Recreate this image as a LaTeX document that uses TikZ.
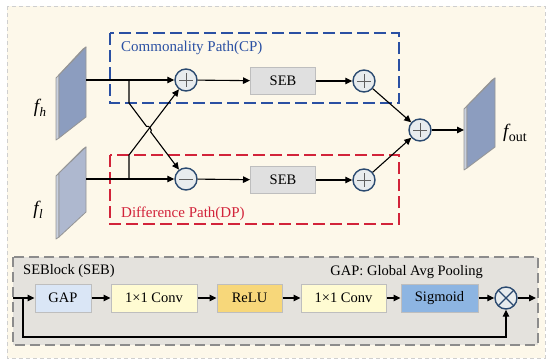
\documentclass[tikz,border=0pt]{standalone}
\usepackage{fontspec}
\setmainfont{Liberation Serif}
\usetikzlibrary{arrows.meta}
\definecolor{cream}{HTML}{FDF8EA}
\definecolor{panelline}{HTML}{CFCFCF}
\definecolor{sebpanel}{HTML}{E4E2DD}
\definecolor{sebline}{HTML}{8C8C8C}
\definecolor{cpblue}{HTML}{2A50A3}
\definecolor{dpred}{HTML}{D2233A}
\definecolor{opline}{HTML}{2B4A70}
\definecolor{opfill}{HTML}{E8ECEE}
\definecolor{sebbox}{HTML}{E0E0E0}
\definecolor{boxline}{HTML}{BEBEBE}
\definecolor{gapfill}{HTML}{DAE6F6}
\definecolor{convfill}{HTML}{FFFBD2}
\definecolor{relufill}{HTML}{F7D77A}
\definecolor{sigfill}{HTML}{8DB5E2}
\definecolor{fhfill}{HTML}{8C9DBF}
\definecolor{flfill}{HTML}{AEB8CF}
\definecolor{sidefill}{HTML}{C9D0DE}
\definecolor{plateedge}{HTML}{959595}
\tikzset{
  txt/.style={font=\fontsize{14.5}{17}\selectfont},
  lbl/.style={font=\fontsize{15}{18}\selectfont, inner sep=0pt},
  conn/.style={line width=1.1pt, draw=black},
  arr/.style={conn, -{Triangle[length=7pt,width=6.5pt]}},
  opnode/.style={circle, draw=opline, fill=opfill, line width=1.4pt, minimum size=22pt, inner sep=0pt},
  plusop/.style={opnode, path picture={\draw[gray!75!black, line width=0.6pt]
      ([yshift=-4pt]path picture bounding box.north) -- ([yshift=4pt]path picture bounding box.south)
      ([xshift=4pt]path picture bounding box.west) -- ([xshift=-4pt]path picture bounding box.east);}},
  minusop/.style={opnode, path picture={\draw[gray!75!black, line width=0.6pt]
      ([xshift=4pt]path picture bounding box.west) -- ([xshift=-4pt]path picture bounding box.east);}},
  timesop/.style={opnode, path picture={\draw[opline, line width=1.2pt]
      (path picture bounding box.north west) -- (path picture bounding box.south east)
      (path picture bounding box.north east) -- (path picture bounding box.south west);}},
  sebnode/.style={txt, draw=boxline, fill=sebbox, line width=1pt, minimum width=65pt, minimum height=27pt, inner sep=0pt},
  blk/.style={txt, draw=boxline, line width=1pt, minimum height=28pt, inner sep=0pt},
  side/.style={fill=sidefill, draw=plateedge, line width=0.8pt, line join=round},
  face/.style={draw=plateedge, line width=0.8pt, line join=round},
}
\begin{document}
\begin{tikzpicture}[x=1pt,y=-1pt]
\useasboundingbox (0,0) rectangle (550,364);
% panels
\filldraw[fill=cream, draw=panelline, line width=0.9pt, dash pattern=on 4pt off 3pt] (7,6) rectangle (545,358);
\filldraw[fill=sebpanel, draw=sebline, line width=1.2pt, dash pattern=on 10pt off 5pt] (13,257) rectangle (538,345);
% path boxes
\draw[cpblue, line width=1.5pt, dash pattern=on 12pt off 5pt] (110,33) rectangle (399,103);
\draw[dpred, line width=1.5pt, dash pattern=on 12pt off 5pt] (110,155) rectangle (399,224);
\node[lbl, text=cpblue, anchor=west] (cpl) at (121,48) {Commonality Path(CP)};
\node[lbl, text=dpred, anchor=west] (dpl) at (121,214) {Difference Path(DP)};
% plates
\filldraw[side] (56,78) -- (83,49) -- (86,47) -- (59,75) -- (59,138) -- (56,140) -- cycle;
\filldraw[face, fill=fhfill] (59,75) -- (86,47) -- (86,117) -- (59,138) -- cycle;
\filldraw[side] (56,176) -- (83,149) -- (86,147) -- (59,173) -- (59,237) -- (56,239) -- cycle;
\filldraw[face, fill=flfill] (59,173) -- (86,147) -- (86,212) -- (59,237) -- cycle;
\filldraw[side] (464,109) -- (492,80) -- (495,78) -- (467,106) -- (467,168) -- (464,170) -- cycle;
\filldraw[face, fill=fhfill] (467,106) -- (495,78) -- (495,147) -- (467,168) -- cycle;
\node[inner sep=0pt, font=\fontsize{19}{20}\selectfont] (fhl) at (40,108) {\itshape f\kern0.5pt\raisebox{-4pt}{\fontsize{13}{13}\selectfont h}};
\node[inner sep=0pt, font=\fontsize{19}{20}\selectfont] (fll) at (38,210) {\itshape f\kern0.5pt\raisebox{-4pt}{\fontsize{13}{13}\selectfont l}};
\node[inner sep=0pt, font=\fontsize{19}{20}\selectfont, anchor=west] (fol) at (503,133) {\itshape f\kern0.5pt\raisebox{-4pt}{\upshape\fontsize{14}{14}\selectfont out}};
\coordinate (fhout) at (86,80);
\coordinate (flout) at (86,179);
\coordinate (foin) at (464,130);
% operators
\node[plusop] (p1) at (186,80) {};
\node[minusop] (m1) at (186,179) {};
\node[sebnode] (seb1) at (283,81) {SEB};
\node[sebnode] (seb2) at (283,180) {SEB};
\node[plusop] (p2) at (364,81) {};
\node[plusop] (p3) at (364,180) {};
\node[plusop] (fin) at (420,130) {};
% connectors top
\coordinate (b1) at (129,80);
\coordinate (b1d) at (129,103);
\coordinate (b2) at (129,179);
\coordinate (b2u) at (129,155);
\coordinate (h1) at (146.5,126.4);
\coordinate (h2) at (150.7,132.0);
\draw[arr] (fhout) -- (p1);
\draw[arr] (flout) -- (m1);
\draw[arr] (b2) -- (b2u) -- (p1);
\draw[arr] (b1) -- (b1d) -- (h1) to[bend left=90] (h2) -- (m1);
\draw[arr] (p1) -- (seb1);
\draw[arr] (m1) -- (seb2);
\draw[arr] (seb1) -- (p2);
\draw[arr] (seb2) -- (p3);
\draw[arr] (p2) -- (fin);
\draw[arr] (p3) -- (fin);
\draw[arr] (fin) -- (foin);
% SE block
\node[txt, anchor=west, inner sep=0pt] (sebt) at (23,271) {SEBlock (SEB)};
\node[txt, anchor=east, inner sep=0pt] (gapt) at (483,272) {GAP: Global Avg Pooling};
\node[blk, fill=gapfill, minimum width=56pt] (gap) at (63,298) {GAP};
\node[blk, fill=convfill, minimum width=86pt] (c1) at (154,298) {1×1 Conv};
\node[blk, fill=relufill, minimum width=65pt] (relu) at (249.5,298) {ReLU};
\node[blk, fill=convfill, minimum width=85pt] (c2) at (343.5,298) {1×1 Conv};
\node[blk, fill=sigfill, minimum width=77pt] (sig) at (439.5,298) {Sigmoid};
\node[timesop] (ot) at (506,298) {};
\coordinate (sin) at (13,298);
\coordinate (sbr) at (23,298);
\coordinate (sout) at (536,298);
\draw[arr] (sin) -- (gap);
\draw[arr] (gap) -- (c1);
\draw[arr] (c1) -- (relu);
\draw[arr] (relu) -- (c2);
\draw[arr] (c2) -- (sig);
\draw[arr] (sig) -- (ot);
\draw[arr] (ot) -- (sout);
\draw[arr] (sbr) -- (23,337) -| (ot);
\end{tikzpicture}
\end{document}
